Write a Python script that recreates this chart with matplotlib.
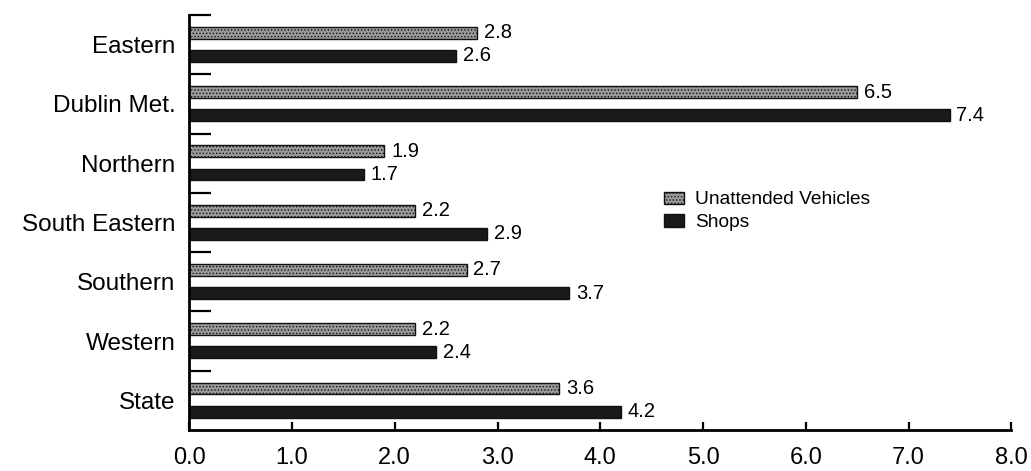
import numpy as np
from matplotlib import pyplot as plt

regions = ['Eastern', 'Dublin Met.', 'Northern', 'South Eastern', 'Southern', 'Western', 'State']
unattended = [2.8, 6.5, 1.9, 2.2, 2.7, 2.2, 3.6]
shops = [2.6, 7.4, 1.7, 2.9, 3.7, 2.4, 4.2]
xticks = [0, 1, 2, 3, 4, 5, 6, 7, 8]

if __name__ == "__main__":
    plt.rcParams['font.family'] = ['Liberation Sans', 'DejaVu Sans']
    plt.rcParams['hatch.color'] = '#3a3a3a'
    plt.rcParams['hatch.linewidth'] = 0.6

    fig = plt.figure(figsize=(10.31, 4.71), dpi=100)
    ax = fig.add_axes([0.1835, 0.087, 0.7975, 0.881])

    pos = np.arange(len(regions))
    h = 0.2
    b1 = ax.barh(pos + 0.3, unattended, height=h, color='#9a9a9a', edgecolor='#111111',
                 linewidth=1.0, hatch='.....', label='Unattended Vehicles')
    b2 = ax.barh(pos + 0.69, shops, height=h, color='#1a1a1a', edgecolor='#111111',
                 linewidth=1.0, label='Shops')
    for bars, vals in ((b1, unattended), (b2, shops)):
        for rect, v in zip(bars, vals):
            ax.text(v + 0.065, rect.get_y() + rect.get_height() / 2, '%.1f' % v,
                    va='center', ha='left', fontsize=14.5)

    # group boundaries get the long inward ticks, names sit at group centres
    ax.set_ylim(7, 0)
    ax.set_xlim(0, 8)
    ax.set_yticks(pos, minor=False)
    ax.set_yticklabels([''] * len(regions))
    ax.set_yticks(pos + 0.5, minor=True)
    ax.set_yticklabels(regions, minor=True, fontsize=17.5)
    ax.set_xticks(xticks)
    ax.set_xticklabels(['%.1f' % x for x in xticks], fontsize=17)
    ax.tick_params(axis='y', which='major', direction='in', length=16, width=1.6)
    ax.tick_params(axis='y', which='minor', length=0, pad=10)
    ax.tick_params(axis='x', direction='in', length=6, width=1.6, pad=12)
    ax.spines['top'].set_visible(False)
    ax.spines['right'].set_visible(False)
    ax.spines['left'].set_linewidth(2)
    ax.spines['bottom'].set_linewidth(2)

    ax.legend(loc='upper left', bbox_to_anchor=(0.578, 0.575), frameon=False, fontsize=13.8,
              borderpad=0, borderaxespad=0, handlelength=1.0, handleheight=0.6,
              handletextpad=0.6, labelspacing=0.3)

    plt.savefig('out.png', dpi=100)
